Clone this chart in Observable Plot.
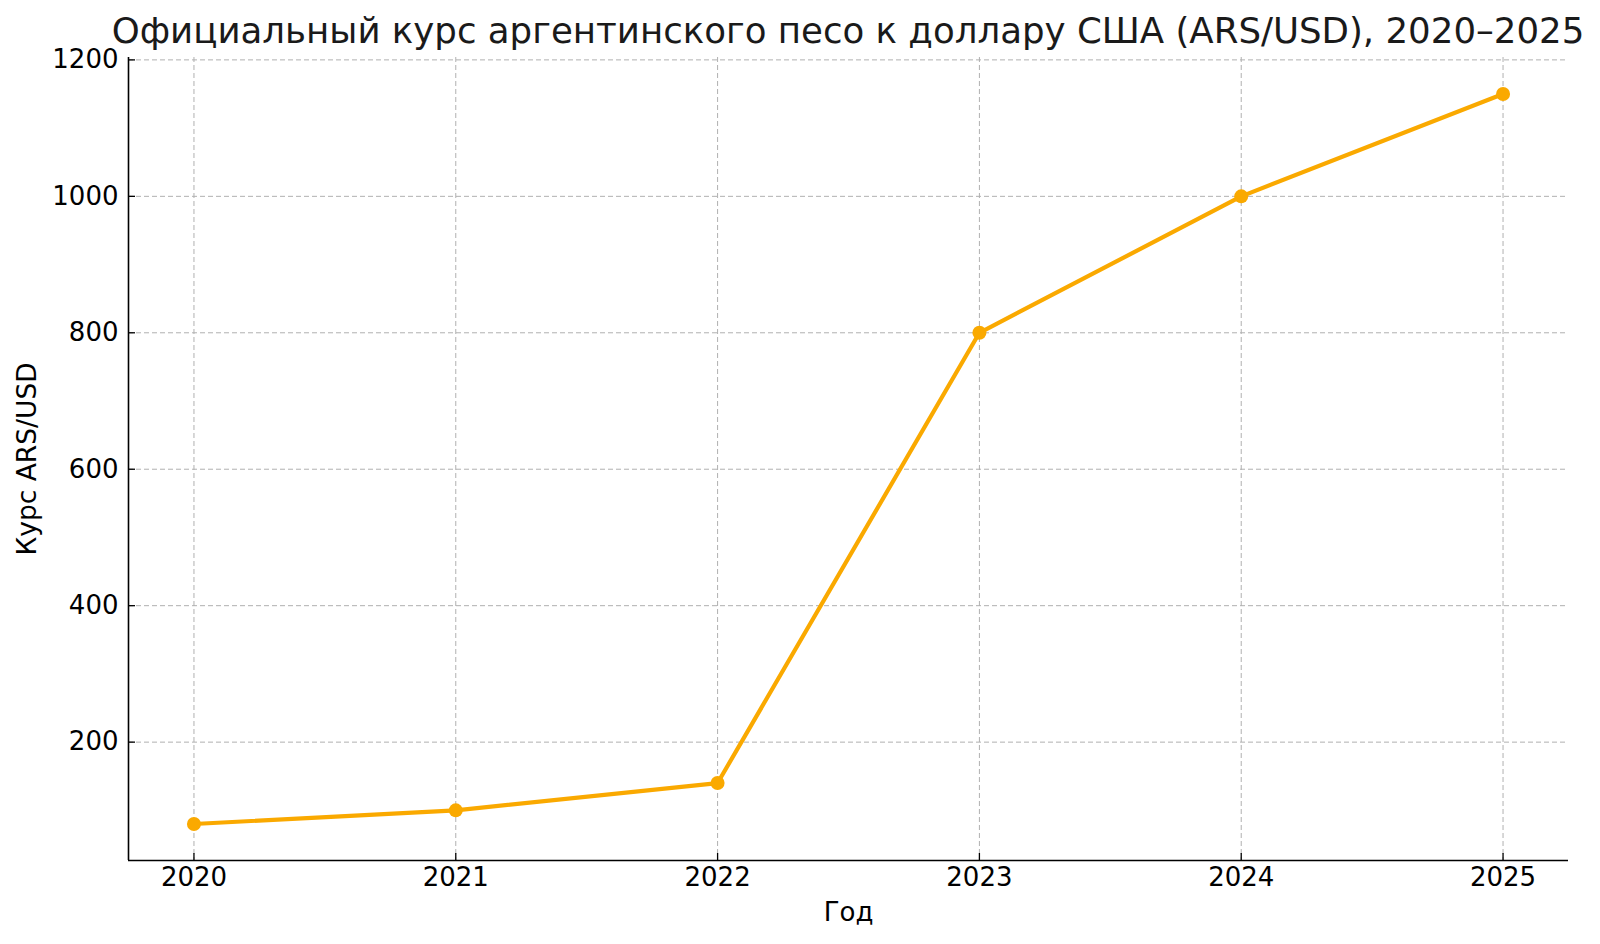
<!DOCTYPE html>
<html>
<head>
<meta charset="utf-8">
<script src="https://cdn.jsdelivr.net/npm/d3@7"></script>
<script src="https://cdn.jsdelivr.net/npm/@observablehq/plot@0.6"></script>
<style>
  body { margin: 0; background: #fff; }
  #wrap { position: relative; width: 1600px; height: 944px; background: #fff; }
  #title {
    position: absolute; top: 10px; left: 848px; transform: translateX(-50%);
    white-space: nowrap; font-family: "DejaVu Sans", sans-serif; font-size: 35.6px;
    line-height: 42px; color: #1a1a1a;
  }
</style>
</head>
<body>
<div id="wrap">
  <div id="title">Официальный курс аргентинского песо к доллару США (ARS/USD), 2020–2025</div>
</div>
<script>
const years = [2020, 2021, 2022, 2023, 2024, 2025];
const rates = [80, 100, 140, 800, 1000, 1150];
const yTicks = [200, 400, 600, 800, 1000, 1200];
const xDomain = [2019.75, 2025.25];
const yDomain = [26.5, 1203.5];
const xLabel = "Год";
const yLabel = "Курс ARS/USD";

const data = years.map((year, i) => ({year, rate: rates[i]}));
const lineColor = "#FAA900";
const gridStyle = {stroke: "#b0b0b0", strokeOpacity: 1, strokeWidth: 1, strokeDasharray: "5,3"};

const chart = Plot.plot({
  width: 1600,
  height: 944,
  marginLeft: 128,
  marginRight: 32,
  marginTop: 57,
  marginBottom: 84,
  style: {fontFamily: "DejaVu Sans, sans-serif", fontSize: "26px", color: "#000", background: "#fff"},
  x: {domain: xDomain},
  y: {domain: yDomain},
  marks: [
    Plot.gridX(years, gridStyle),
    Plot.gridY(yTicks, gridStyle),
    Plot.axisX(years, {tickFormat: d => String(d), tickSize: -7, tickPadding: 14, fontSize: 26, label: null, stroke: "#000", strokeWidth: 1.3}),
    Plot.axisY(yTicks, {tickFormat: d => String(d), tickSize: -7, tickPadding: 17, fontSize: 26, label: null, stroke: "#000", strokeWidth: 1.3}),
    Plot.ruleX([xDomain[0]], {stroke: "#000", strokeWidth: 1.6}),
    Plot.ruleY([yDomain[0]], {stroke: "#000", strokeWidth: 1.6}),
    Plot.line(data, {x: "year", y: "rate", stroke: lineColor, strokeWidth: 4.2}),
    Plot.dot(data, {x: "year", y: "rate", r: 7, fill: lineColor, stroke: "none"}),
    Plot.text([xLabel], {frameAnchor: "bottom", dy: 42, lineAnchor: "top", fontSize: 26, fill: "#000"}),
    Plot.text([yLabel], {frameAnchor: "left", dx: -111, rotate: -90, lineAnchor: "top", textAnchor: "middle", fontSize: 26.5, fill: "#000"})
  ]
});
document.getElementById("wrap").append(chart);
</script>
</body>
</html>
